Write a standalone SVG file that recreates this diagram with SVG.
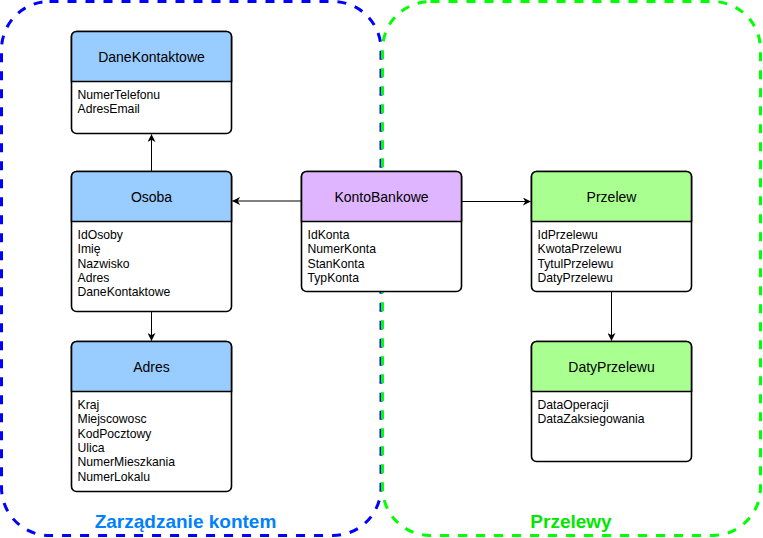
<svg xmlns="http://www.w3.org/2000/svg" width="763" height="538" viewBox="0 0 763 538">
<defs>
<style>
.box{fill:#fff;stroke:#000;stroke-width:1.6}
.h{font-family:"Liberation Sans",Arial,sans-serif;font-size:14px;text-anchor:middle;fill:#000}
.a{font-family:"Liberation Sans",Arial,sans-serif;font-size:12.2px;fill:#000}
.grp{fill:none;stroke-width:3;stroke-dasharray:9 9}
.gl{font-family:"Liberation Sans",Arial,sans-serif;font-size:19px;font-weight:bold;text-anchor:middle}
.edge{fill:none;stroke:#000;stroke-width:1}
</style>
<marker id="arr" viewBox="0 0 10 10" refX="9.5" refY="5" markerWidth="8" markerHeight="8" markerUnits="userSpaceOnUse" orient="auto">
<path d="M0,0 L10,5 L0,10 L3,5 Z" fill="#000"/>
</marker>
</defs>

<g id="group-zarzadzanie">
<rect class="grp" x="1.5" y="1.5" width="379.5" height="534" rx="48" ry="48" stroke="#0000FF"/>
<text class="gl" x="185.5" y="528" fill="#007FFF">Zarządzanie kontem</text>
</g>
<g id="group-przelewy">
<rect class="grp" x="382.5" y="1.5" width="378" height="534" rx="48" ry="48" stroke="#00FF00"/>
<text class="gl" x="571" y="528" fill="#00E600">Przelewy</text>
</g>

<g id="node-danekontaktowe">
<rect class="box" x="71.5" y="31.5" width="160" height="102" rx="5"/>
<path d="M71.5,81.5 V36.5 a5,5 0 0 1 5,-5 H226.5 a5,5 0 0 1 5,5 V81.5 Z" fill="#99CCFF" stroke="#000" stroke-width="1.6"/>
<text class="h" x="151.5" y="61.5">DaneKontaktowe</text>
<text class="a" x="77.5" y="99">NumerTelefonu</text>
<text class="a" x="77.5" y="113.3">AdresEmail</text>
</g>

<g id="node-osoba">
<rect class="box" x="71.5" y="171.5" width="160" height="140" rx="5"/>
<path d="M71.5,221.5 V176.5 a5,5 0 0 1 5,-5 H226.5 a5,5 0 0 1 5,5 V221.5 Z" fill="#99CCFF" stroke="#000" stroke-width="1.6"/>
<text class="h" x="151.5" y="201.5">Osoba</text>
<text class="a" x="77.5" y="239">IdOsoby</text>
<text class="a" x="77.5" y="253.3">Imię</text>
<text class="a" x="77.5" y="267.6">Nazwisko</text>
<text class="a" x="77.5" y="281.9">Adres</text>
<text class="a" x="77.5" y="296.2">DaneKontaktowe</text>
</g>

<g id="node-adres">
<rect class="box" x="71.5" y="341.5" width="160" height="150" rx="5"/>
<path d="M71.5,391.5 V346.5 a5,5 0 0 1 5,-5 H226.5 a5,5 0 0 1 5,5 V391.5 Z" fill="#99CCFF" stroke="#000" stroke-width="1.6"/>
<text class="h" x="151.5" y="371.5">Adres</text>
<text class="a" x="77.5" y="409">Kraj</text>
<text class="a" x="77.5" y="423.3">Miejscowosc</text>
<text class="a" x="77.5" y="437.6">KodPocztowy</text>
<text class="a" x="77.5" y="451.9">Ulica</text>
<text class="a" x="77.5" y="466.2">NumerMieszkania</text>
<text class="a" x="77.5" y="480.5">NumerLokalu</text>
</g>

<g id="node-kontobankowe">
<rect class="box" x="301.5" y="171.5" width="160" height="120" rx="5"/>
<path d="M301.5,221.5 V176.5 a5,5 0 0 1 5,-5 H456.5 a5,5 0 0 1 5,5 V221.5 Z" fill="#E0B5FF" stroke="#000" stroke-width="1.6"/>
<text class="h" x="381.5" y="201.5">KontoBankowe</text>
<text class="a" x="307.5" y="239">IdKonta</text>
<text class="a" x="307.5" y="253.3">NumerKonta</text>
<text class="a" x="307.5" y="267.6">StanKonta</text>
<text class="a" x="307.5" y="281.9">TypKonta</text>
</g>

<g id="node-przelew">
<rect class="box" x="531.5" y="171.5" width="160" height="120" rx="5"/>
<path d="M531.5,221.5 V176.5 a5,5 0 0 1 5,-5 H686.5 a5,5 0 0 1 5,5 V221.5 Z" fill="#A9FF8F" stroke="#000" stroke-width="1.6"/>
<text class="h" x="611.5" y="201.5">Przelew</text>
<text class="a" x="537.5" y="239">IdPrzelewu</text>
<text class="a" x="537.5" y="253.3">KwotaPrzelewu</text>
<text class="a" x="537.5" y="267.6">TytulPrzelewu</text>
<text class="a" x="537.5" y="281.9">DatyPrzelewu</text>
</g>

<g id="node-datyprzelewu">
<rect class="box" x="531.5" y="341.5" width="160" height="120" rx="5"/>
<path d="M531.5,391.5 V346.5 a5,5 0 0 1 5,-5 H686.5 a5,5 0 0 1 5,5 V391.5 Z" fill="#A9FF8F" stroke="#000" stroke-width="1.6"/>
<text class="h" x="611.5" y="371.5">DatyPrzelewu</text>
<text class="a" x="537.5" y="409">DataOperacji</text>
<text class="a" x="537.5" y="423.3">DataZaksiegowania</text>
</g>

<g id="connectors">
<path class="edge" d="M151.5,171.5 V134.5" marker-end="url(#arr)"/>
<path class="edge" d="M151.5,311.5 V340.5" marker-end="url(#arr)"/>
<path class="edge" d="M301.5,201 H232.5" marker-end="url(#arr)"/>
<path class="edge" d="M461.5,201.5 H530.5" marker-end="url(#arr)"/>
<path class="edge" d="M611.5,291.5 V340.5" marker-end="url(#arr)"/>
</g>
</svg>
